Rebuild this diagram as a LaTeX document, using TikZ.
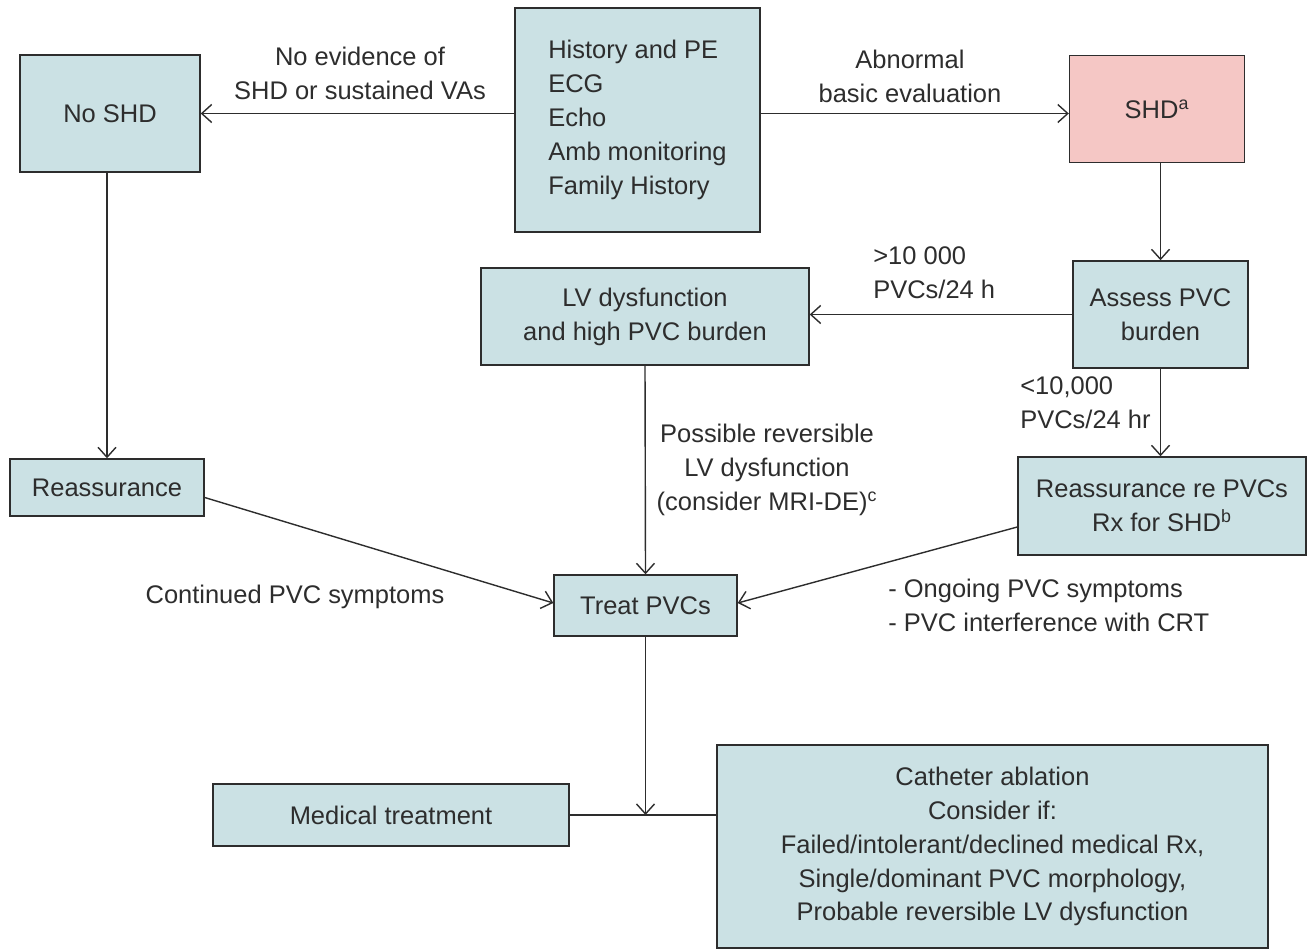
\documentclass[tikz,border=0pt]{standalone}
\usepackage{fontspec}
\setmainfont{Liberation Sans}
\usetikzlibrary{arrows.meta}
\definecolor{boxblue}{RGB}{203,225,228}
\definecolor{boxpink}{RGB}{245,199,197}
\definecolor{ink}{RGB}{45,45,45}
\tikzset{
  every node/.style={text=ink,font=\fontsize{14.5}{19.3}\selectfont},
  box/.style={draw=ink,line width=0.8pt,fill=boxblue,inner sep=0pt,align=center},
  conn/.style={draw=ink,line width=0.8pt,-{Straight Barb[length=2mm,width=3.6mm]}},
  plain/.style={draw=ink,line width=0.8pt}
}
\begin{document}
\begin{tikzpicture}[x=0.02cm,y=-0.02cm]
\useasboundingbox (0,0) rectangle (1308,949);
\node[box,align=left,minimum width=4.9cm,minimum height=4.48cm] (hist) at (637.5,120) {History and PE\\ECG\\Echo\\Amb monitoring\\Family History};
\node[box,minimum width=3.6cm,minimum height=2.34cm] (noshd) at (110,113.5) {No SHD};
\node[box,fill=boxpink,minimum width=3.5cm,minimum height=2.14cm] (shd) at (1157,109) {SHD\textsuperscript{a}};
\node[box,minimum width=3.5cm,minimum height=2.14cm] (assess) at (1160.5,314.5) {Assess PVC\\burden};
\node[box,minimum width=6.56cm,minimum height=1.94cm] (lvdys) at (645,316.5) {LV dysfunction\\and high PVC burden};
\node[box,minimum width=3.88cm,minimum height=1.14cm] (reas) at (107,487.5) {Reassurance};
\node[box,minimum width=5.76cm,minimum height=1.96cm] (reasre) at (1162,506) {Reassurance re PVCs\\Rx for SHD\textsuperscript{b}};
\node[box,minimum width=3.66cm,minimum height=1.22cm] (treat) at (645.5,605.5) {Treat PVCs};
\node[box,minimum width=7.12cm,minimum height=1.24cm] (med) at (391,815) {Medical treatment};
\node[box,minimum width=11.02cm,minimum height=4.06cm] (cath) at (992.5,846.5) {Catheter ablation\\Consider if:\\Failed/intolerant/declined medical Rx,\\Single/dominant PVC morphology,\\Probable reversible LV dysfunction};
\node[align=center] (lblnone) at (360,73) {No evidence of\\SHD or sustained VAs};
\node[align=center] (lblabn) at (910,76) {Abnormal\\basic evaluation};
\node[align=left,anchor=west,inner sep=0pt] (lblhigh) at (873,272.5) {>10 000\\PVCs/24 h};
\node[align=left,anchor=west,inner sep=0pt] (lbllow) at (1020,403) {<10,000\\PVCs/24 hr};
\node[align=center] (lblrev) at (767,470) {Possible reversible\\LV dysfunction\\(consider MRI-DE)\textsuperscript{c}};
\node (lblcont) at (295,597) {Continued PVC symptoms};
\node[align=left,anchor=west,inner sep=0pt] (lblongo) at (888,605.5) {- Ongoing PVC symptoms\\- PVC interference with CRT};
\coordinate (jn) at (treat.south |- med.east);
\draw[conn] (hist.west |- noshd.east) -- (noshd.east);
\draw[conn] (hist.east |- noshd.east) -- (shd.west |- noshd.east);
\draw[conn] (shd.south -| assess.north) -- (assess.north);
\draw[conn] (assess.west) -- (assess.west -| lvdys.east);
\draw[conn] (assess.south) -- (assess.south |- reasre.north);
\draw[conn] (noshd.south -| reas.north) -- (reas.north);
\draw[conn] (lvdys.south) -- (treat.north);
\draw[conn] ([yshift=-0.2cm]reas.east) -- ([yshift=0.05cm]treat.west);
\draw[conn] ([yshift=-0.42cm]reasre.west) -- ([yshift=0.05cm]treat.east);
\draw[conn] (treat.south) -- (jn);
\draw[plain] (med.east) -- (med.east -| cath.west);
\end{tikzpicture}
\end{document}
